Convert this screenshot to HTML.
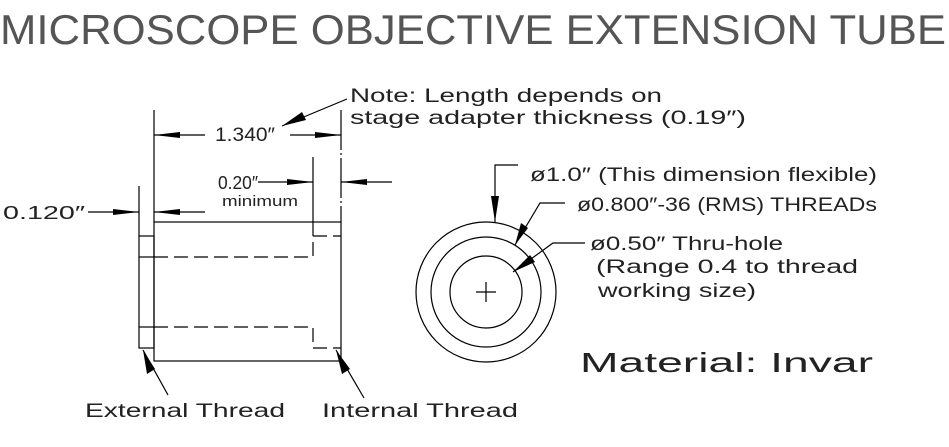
<!DOCTYPE html>
<html><head><meta charset="utf-8"><style>
html,body{margin:0;padding:0;background:#fff;}
svg{display:block}
text{font-family:"Liberation Sans",sans-serif;fill:#222;}
</style></head><body>
<svg width="949" height="447" viewBox="0 0 949 447" xmlns="http://www.w3.org/2000/svg">
<g stroke="#000" stroke-width="1.2" fill="none">
<rect x="154" y="222" width="187" height="139"/>
<rect x="139" y="236" width="15" height="112"/>
<line x1="139" y1="257" x2="154" y2="257"/>
<line x1="139" y1="327" x2="154" y2="327"/>
<path d="M154 257 H313 V236 H341" stroke-dasharray="14,6"/>
<path d="M154 327 H313 V348 H341" stroke-dasharray="14,6"/>
<line x1="154" y1="110" x2="154" y2="222"/>
<line x1="341" y1="110" x2="341" y2="222" stroke-dasharray="40,3,2,3"/>
<line x1="139" y1="186" x2="139" y2="236"/>
<line x1="313" y1="157" x2="313" y2="236"/>
<line x1="154" y1="135" x2="205" y2="135"/>
<line x1="290" y1="135" x2="341" y2="135"/>
<line x1="258" y1="182" x2="313" y2="182"/>
<line x1="341" y1="182" x2="392" y2="182"/>
<line x1="88" y1="212" x2="139" y2="212"/>
<line x1="154" y1="212" x2="205" y2="212"/>
<line x1="347" y1="99" x2="282" y2="126"/>
<line x1="143" y1="350" x2="168" y2="395"/>
<line x1="336" y1="350" x2="364" y2="398"/>
<circle cx="486" cy="292" r="70"/>
<circle cx="486" cy="292" r="55"/>
<circle cx="486" cy="292" r="36"/>
<line x1="476" y1="292" x2="496" y2="292"/>
<line x1="486" y1="282" x2="486" y2="302"/>
<path d="M518 165 H495 V222"/>
<path d="M565 203 H540 L515 245"/>
<path d="M585 243 H553 L513 272"/>
</g>
<g fill="#000">
<polygon points="154,135 180,132 180,138"/>
<polygon points="341,135 315,132 315,138"/>
<polygon points="313,182 287,179 287,185"/>
<polygon points="341,182 367,179 367,185"/>
<polygon points="139,212 113,209 113,215"/>
<polygon points="154,212 180,209 180,215"/>
<polygon points="282,126 302,112 306,120"/>
<polygon points="143,350 147,374 155,369"/>
<polygon points="336,350 342,374 350,369"/>
<polygon points="495,222 491,196 499,196"/>
<polygon points="515,245 521,223 528,228"/>
<polygon points="513,272 530,255 535,262"/>
</g>
<text x="0" y="44" font-size="42" textLength="946" lengthAdjust="spacingAndGlyphs" style="fill:#555">MICROSCOPE OBJECTIVE EXTENSION TUBE</text>
<text x="215" y="141" font-size="19" textLength="60" lengthAdjust="spacingAndGlyphs">1.340″</text>
<text x="218" y="189" font-size="18" textLength="40" lengthAdjust="spacingAndGlyphs">0.20″</text>
<text x="222" y="206" font-size="15" textLength="76" lengthAdjust="spacingAndGlyphs">minimum</text>
<text x="3" y="219" font-size="18" textLength="82" lengthAdjust="spacingAndGlyphs">0.120″</text>
<text x="350" y="102" font-size="19" textLength="312" lengthAdjust="spacingAndGlyphs">Note: Length depends on</text>
<text x="350" y="124" font-size="19" textLength="396" lengthAdjust="spacingAndGlyphs">stage adapter thickness (0.19″)</text>
<text x="530" y="181" font-size="19" textLength="347" lengthAdjust="spacingAndGlyphs">ø1.0″ (This dimension flexible)</text>
<text x="577" y="211" font-size="19" textLength="300" lengthAdjust="spacingAndGlyphs">ø0.800″-36 (RMS) THREADs</text>
<text x="590" y="250" font-size="19" textLength="193" lengthAdjust="spacingAndGlyphs">ø0.50″ Thru-hole</text>
<text x="596" y="273" font-size="19" textLength="262" lengthAdjust="spacingAndGlyphs">(Range 0.4 to thread</text>
<text x="598" y="297" font-size="19" textLength="158" lengthAdjust="spacingAndGlyphs">working size)</text>
<text x="580" y="372" font-size="28" textLength="293" lengthAdjust="spacingAndGlyphs">Material: Invar</text>
<text x="85" y="417" font-size="19" textLength="200" lengthAdjust="spacingAndGlyphs">External Thread</text>
<text x="322" y="417" font-size="19" textLength="196" lengthAdjust="spacingAndGlyphs">Internal Thread</text>
</svg>
</body></html>
